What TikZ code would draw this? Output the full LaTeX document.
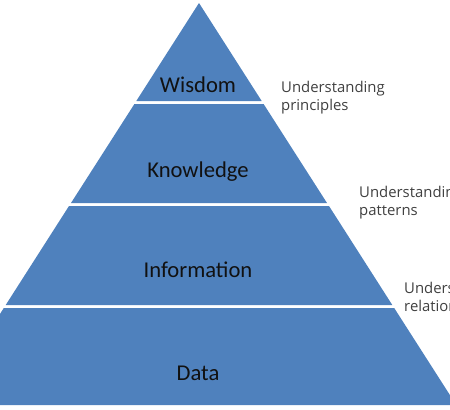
\documentclass[tikz,border=0pt]{standalone}
\usepackage{fontspec}
\setmainfont{Carlito}
\newfontfamily\sidefont{Open Sans}
\usetikzlibrary{positioning}
\definecolor{dikwBlue}{HTML}{4F81BD}
\definecolor{dikwInk}{HTML}{111111}
\definecolor{dikwNote}{HTML}{404040}
\tikzset{
  dikwLayer/.style={fill=dikwBlue,draw=none},
  dikwLabel/.style={text=dikwInk,font=\fontsize{19.3}{22}\selectfont,anchor=base,inner sep=0pt},
  dikwNote/.style={text=dikwNote,font=\sidefont\fontsize{12.7}{15.3}\selectfont,
    align=left,anchor=north west,inner sep=0pt}
}

\begin{document}
\begin{tikzpicture}[x=0.03cm,y=-0.03cm]
\useasboundingbox (0,0) rectangle (450,409);
\clip (0,0) rectangle (450,409);
% pyramid layers, top to bottom
\fill[dikwLayer] (199,3) -- (261.7,101) -- (136.3,101) -- cycle;
\fill[dikwLayer] (134.4,104) -- (263.6,104) -- (327,203) -- (71,203) -- cycle;
\fill[dikwLayer] (69,206) -- (329,206) -- (392.3,305) -- (5.7,305) -- cycle;
\fill[dikwLayer] (3.8,308) -- (394.2,308) -- (456.3,405) -- (-58.3,405) -- cycle;
\node[dikwLabel] (wisdom) at (198,92) {Wisdom};
\node[dikwLabel] (knowledge) at (198,177) {Knowledge};
\node[dikwLabel] (information) at (198,277) {Information};
\node[dikwLabel] (data) at (198,380) {Data};
\node[dikwNote] (principles) at (281,81) {Understanding\\principles};
\node[dikwNote] (patterns) at (359,186) {Understanding\\patterns};
\node[dikwNote] (relations) at (404,282) {Understanding\\relationships};
\end{tikzpicture}
\end{document}
